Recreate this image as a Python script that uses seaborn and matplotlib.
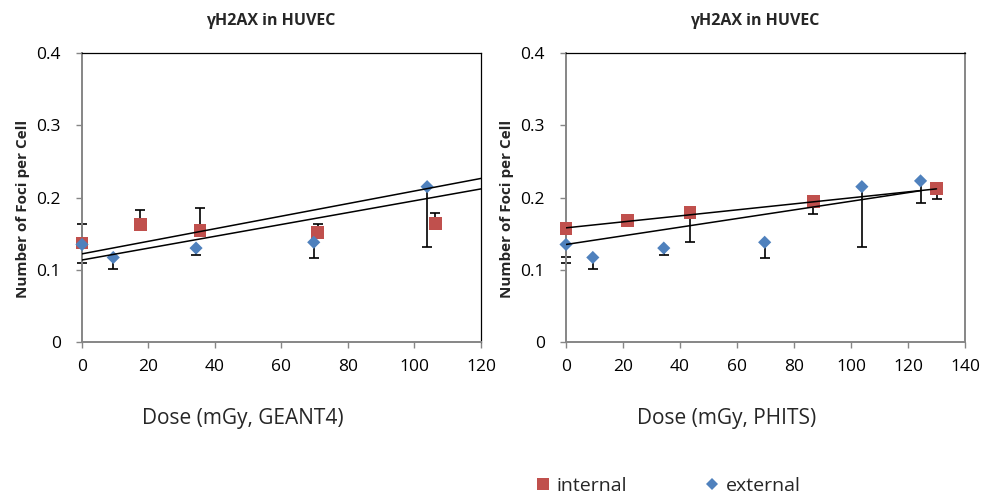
import numpy as np
import pandas as pd
import matplotlib
matplotlib.use("Agg")
import matplotlib.pyplot as plt
from matplotlib.lines import Line2D
import seaborn as sns

# ---- data -------------------------------------------------------------
# external exposure (same measurements shown on both dose scales)
ext_dose = [0, 9.4, 34.3, 69.7, 103.8, 124.4]
ext_foci = [0.135, 0.117, 0.130, 0.138, 0.215, 0.223]
ext_err_lo = [0.026, 0.016, 0.009, 0.022, 0.083, 0.031]
ext_err_hi = [0, 0, 0, 0, 0, 0]

# internal exposure, dose from GEANT4
g4_dose = [0, 17.5, 35.5, 70.9, 106.3]
g4_foci = [0.137, 0.163, 0.154, 0.152, 0.164]
g4_err_lo = [0, 0, 0, 0, 0]
g4_err_hi = [0.026, 0.020, 0.032, 0.011, 0.014]

# internal exposure, dose from PHITS
ph_dose = [0, 21.6, 43.5, 86.7, 130.0]
ph_foci = [0.157, 0.168, 0.179, 0.195, 0.212]
ph_err_lo = [0.039, 0, 0.040, 0.018, 0.014]
ph_err_hi = [0, 0, 0, 0, 0]

# linear trend lines: (intercept, slope, x_start, x_end)
g4_trend_a = (0.1220, 0.00087, 0, 120)
g4_trend_b = (0.1135, 0.00082, 0, 120)
ph_trend_int = (0.1580, 0.000415, 0, 130)
ph_trend_ext = (0.1350, 0.000598, 0, 124.4)

titles = ["γH2AX in HUVEC", "γH2AX in HUVEC"]
xlabels = ["Dose (mGy, GEANT4)", "Dose (mGy, PHITS)"]
ylabel = "Number of Foci per Cell"
x_max = [120, 140]
y_ticks = [0, 0.1, 0.2, 0.3, 0.4]
y_ticklabels = ["0", "0.1", "0.2", "0.3", "0.4"]

# ---- style ------------------------------------------------------------
sns.set_style("white")
plt.rcParams["font.family"] = ["Open Sans", "DejaVu Sans"]

RED = "#C0504D"
BLUE = "#4F81BD"
GREY = "#868686"

fig = plt.figure(figsize=(9.82, 4.95), dpi=100)
ax_l = fig.add_axes([0.0835, 0.3091, 0.4063, 0.5838])
ax_r = fig.add_axes([0.5764, 0.3091, 0.4063, 0.5838])


def draw_panel(ax, int_dose, int_foci, int_lo, int_hi, trends, xmax, title, xlabel,
               right_spine_color):
    df = pd.DataFrame({
        "dose": list(int_dose) + list(ext_dose),
        "foci": list(int_foci) + list(ext_foci),
        "series": ["internal"] * len(int_dose) + ["external"] * len(ext_dose),
    })
    df = df[df["dose"] <= xmax]

    # error bars
    ax.errorbar(int_dose, int_foci, yerr=[int_lo, int_hi], fmt="none",
                ecolor="black", elinewidth=1.2, capsize=3.5, capthick=1.2,
                zorder=2, clip_on=False)
    e_mask = np.array(ext_dose) <= xmax
    ax.errorbar(np.array(ext_dose)[e_mask], np.array(ext_foci)[e_mask],
                yerr=[np.array(ext_err_lo)[e_mask], np.array(ext_err_hi)[e_mask]],
                fmt="none", ecolor="black", elinewidth=1.2, capsize=3.5,
                capthick=1.2, zorder=2, clip_on=False)

    sns.scatterplot(data=df, x="dose", y="foci", hue="series", style="series",
                    palette={"internal": RED, "external": BLUE},
                    markers={"internal": "s", "external": "D"},
                    size="series", sizes={"internal": 85, "external": 45},
                    linewidth=0, legend=False, ax=ax, zorder=3, clip_on=False)

    for b0, b1, xs, xe in trends:
        xx = np.array([xs, xe])
        ax.plot(xx, b0 + b1 * xx, color="black", lw=1.1, zorder=4)

    ax.set_xlim(0, xmax)
    ax.set_ylim(0, 0.4)
    ax.set_xticks(np.arange(0, xmax + 1, 20))
    ax.set_yticks(y_ticks)
    ax.set_yticklabels(y_ticklabels)
    ax.tick_params(axis="both", which="major", direction="out", length=4.3,
                   width=1, color=GREY, labelsize=12.5, labelcolor="black",
                   left=True, bottom=True)
    ax.tick_params(axis="x", pad=8)
    ax.tick_params(axis="y", pad=11)

    for side in ("left", "bottom"):
        ax.spines[side].set_color(GREY)
        ax.spines[side].set_linewidth(1.4)
    ax.spines["top"].set_color("black")
    ax.spines["top"].set_linewidth(0.9)
    ax.spines["right"].set_color(right_spine_color)
    ax.spines["right"].set_linewidth(0.9 if right_spine_color == "black" else 1.4)

    ax.set_xlabel(xlabel, fontsize=15)
    ax.xaxis.set_label_coords(0.403, -0.228)
    ax.set_ylabel(ylabel, fontsize=11, fontweight="bold")
    ax.yaxis.set_label_coords(-0.13, 0.46)
    ax.text(0.474, 1.112, title, transform=ax.transAxes, ha="center",
            va="center", fontsize=11.5, fontweight="bold")


draw_panel(ax_l, g4_dose, g4_foci, g4_err_lo, g4_err_hi,
           [g4_trend_a, g4_trend_b], x_max[0], titles[0], xlabels[0], "black")
draw_panel(ax_r, ph_dose, ph_foci, ph_err_lo, ph_err_hi,
           [ph_trend_int, ph_trend_ext], x_max[1], titles[1], xlabels[1], GREY)

handles = [
    Line2D([], [], linestyle="none", marker="s", markersize=8.5,
           markerfacecolor=RED, markeredgewidth=0, label="internal"),
    Line2D([], [], linestyle="none", marker="D", markersize=6,
           markerfacecolor=BLUE, markeredgewidth=0, label="external"),
]
fig.legend(handles=handles, loc="center", bbox_to_anchor=(0.68, 0.018),
           ncol=2, frameon=False, fontsize=14, handlelength=0.8,
           handletextpad=0.3, columnspacing=4.0)

fig.savefig("out.png", dpi=100)
